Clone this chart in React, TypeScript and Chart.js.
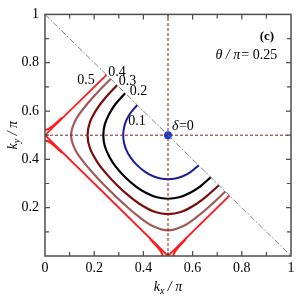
import { useEffect, useRef } from "react";
import { Chart, registerables } from "chart.js";

Chart.register(...registerables);

// ---------- data ----------
const xTickLabels = ["0", "0.2", "0.4", "0.6", "0.8", "1"];
const yTickLabels = ["0.2", "0.4", "0.6", "0.8", "1"];
const deltaLabels = ["0.1", "0.2", "0.3", "0.4", "0.5"];

// δ = 0.1 (blue)
const curve01: [number, number][] = [
  [0.375, 0.625], [0.346, 0.59], [0.33, 0.56], [0.321, 0.53], [0.318, 0.5],
  [0.321, 0.47], [0.33, 0.44], [0.346, 0.41], [0.375, 0.375], [0.41, 0.346],
  [0.44, 0.33], [0.47, 0.321], [0.5, 0.318], [0.53, 0.321], [0.56, 0.33],
  [0.59, 0.346], [0.625, 0.375],
];
// δ = 0.2 (black)
const curve02: [number, number][] = [
  [0.326, 0.674], [0.2875, 0.63], [0.262, 0.59], [0.243, 0.545], [0.237, 0.5],
  [0.243, 0.455], [0.262, 0.41], [0.2875, 0.37], [0.326, 0.326], [0.37, 0.2875],
  [0.41, 0.262], [0.455, 0.243], [0.5, 0.237], [0.545, 0.243], [0.59, 0.262],
  [0.63, 0.2875], [0.674, 0.326],
];
// δ = 0.3 (dark red)
const curve03: [number, number][] = [
  [0.293, 0.707], [0.25, 0.66], [0.212, 0.61], [0.183, 0.555], [0.173, 0.5],
  [0.183, 0.445], [0.212, 0.39], [0.25, 0.34], [0.293, 0.293], [0.34, 0.25],
  [0.39, 0.212], [0.445, 0.183], [0.5, 0.173], [0.555, 0.183], [0.61, 0.212],
  [0.66, 0.25], [0.707, 0.293],
];
// δ = 0.4 (brown)
const curve04: [number, number][] = [
  [0.267, 0.733], [0.216, 0.68], [0.164, 0.62], [0.123, 0.56], [0.106, 0.5],
  [0.123, 0.44], [0.164, 0.38], [0.216, 0.32], [0.267, 0.267], [0.32, 0.216],
  [0.38, 0.164], [0.44, 0.123], [0.5, 0.106], [0.56, 0.123], [0.62, 0.164],
  [0.68, 0.216], [0.733, 0.267],
];
// δ = 0.5 (red diamond)
const curve05: [number, number][] = [
  [0.25, 0.75], [0, 0.5], [0.5, 0], [0.75, 0.25],
];
// thick parts of δ = 0.5 near the saddle points
const saddleLeftUp: [number, number][] = [
  [0, 0.522], [0.01, 0.524], [0.02, 0.53], [0.035, 0.541], [0.05, 0.555], [0.07, 0.573],
];
const saddleLeftDown: [number, number][] = [
  [0, 0.478], [0.01, 0.476], [0.02, 0.47], [0.035, 0.459], [0.05, 0.445], [0.07, 0.427],
];
const saddleBottomLeft: [number, number][] = [
  [0.478, 0], [0.476, 0.01], [0.47, 0.02], [0.459, 0.035], [0.445, 0.05], [0.427, 0.07],
];
const saddleBottomRight: [number, number][] = [
  [0.522, 0], [0.524, 0.01], [0.53, 0.02], [0.541, 0.035], [0.555, 0.05], [0.573, 0.07],
];
const diagonalLine: [number, number][] = [[0, 1], [1, 0]];
const verticalGuide: [number, number][] = [[0.5, 0], [0.5, 1]];
const horizontalGuide: [number, number][] = [[0, 0.5], [1, 0.5]];
const deltaZeroPoint: [number, number][] = [[0.5, 0.5]];

// ---------- styling ----------
const SERIF = '"Liberation Serif", "DejaVu Serif", serif';
const labelAnchors: { text: string; x: number; y: number; align: CanvasTextAlign }[] = [
  { text: deltaLabels[4], x: 0.167, y: 0.727, align: "center" },
  { text: deltaLabels[3], x: 0.293, y: 0.759, align: "center" },
  { text: deltaLabels[2], x: 0.335, y: 0.722, align: "center" },
  { text: deltaLabels[1], x: 0.38, y: 0.682, align: "center" },
  { text: deltaLabels[0], x: 0.374, y: 0.559, align: "center" },
];

const toPts = (a: [number, number][]) => a.map(([x, y]) => ({ x, y }));

const line = (
  data: [number, number][],
  color: string,
  width: number,
  tension = 0,
  dash: number[] = []
) => ({
  data: toPts(data),
  showLine: true,
  borderColor: color,
  backgroundColor: color,
  borderWidth: width,
  borderDash: dash,
  pointRadius: 0,
  tension,
  fill: false,
});

const decorPlugin = {
  id: "decor",
  afterDatasetsDraw(chart: any) {
    const { ctx, chartArea: a, scales } = chart;
    const xs = scales.x;
    const ys = scales.y;
    ctx.save();
    // frame
    ctx.strokeStyle = "#4d4d4d";
    ctx.lineWidth = 1.5;
    ctx.strokeRect(a.left, a.top, a.right - a.left, a.bottom - a.top);
    // ticks (inward, all four sides)
    ctx.lineWidth = 1.2;
    ctx.beginPath();
    xs.ticks.forEach((t: any) => {
      const n = Math.round(t.value * 10);
      if (n === 0 || n === 10) return;
      const L = n % 2 === 0 ? 5 : 4;
      const px = xs.getPixelForValue(t.value);
      ctx.moveTo(px, a.bottom);
      ctx.lineTo(px, a.bottom - L);
      ctx.moveTo(px, a.top);
      ctx.lineTo(px, a.top + L);
    });
    ys.ticks.forEach((t: any) => {
      const n = Math.round(t.value * 10);
      if (n === 0 || n === 10) return;
      const L = n % 2 === 0 ? 5 : 4;
      const py = ys.getPixelForValue(t.value);
      ctx.moveTo(a.left, py);
      ctx.lineTo(a.left + L, py);
      ctx.moveTo(a.right, py);
      ctx.lineTo(a.right - L, py);
    });
    ctx.stroke();

    // curve labels
    ctx.fillStyle = "#000";
    ctx.textBaseline = "middle";
    ctx.font = `14px ${SERIF}`;
    labelAnchors.forEach((l) => {
      ctx.textAlign = l.align;
      ctx.fillText(l.text, xs.getPixelForValue(l.x), ys.getPixelForValue(l.y));
    });
    // δ = 0
    ctx.textAlign = "left";
    ctx.font = `italic 14px ${SERIF}`;
    const dx = xs.getPixelForValue(0.516);
    const dy = ys.getPixelForValue(0.535);
    ctx.fillText("δ", dx, dy);
    let w = ctx.measureText("δ").width;
    ctx.font = `14px ${SERIF}`;
    ctx.fillText("=0", dx + w + 0.5, dy);
    // (c)
    ctx.font = `bold 13px ${SERIF}`;
    ctx.textAlign = "center";
    ctx.fillText("(c)", xs.getPixelForValue(0.902), ys.getPixelForValue(0.91));
    // θ / π = 0.25
    ctx.font = `italic 14px ${SERIF}`;
    ctx.textAlign = "left";
    let tx = xs.getPixelForValue(0.693);
    const ty = ys.getPixelForValue(0.829);
    ctx.fillText("θ / π", tx, ty);
    tx += ctx.measureText("θ / π").width;
    ctx.font = `14px ${SERIF}`;
    ctx.fillText("= 0.25", tx + 1, ty);

    // axis titles
    const drawTitle = (sub: string) => {
      ctx.font = `italic 14px ${SERIF}`;
      const kW = ctx.measureText("k").width;
      ctx.font = `italic 10px ${SERIF}`;
      const sW = ctx.measureText(sub).width;
      ctx.font = `14px ${SERIF}`;
      const rest = " / π";
      const rW = ctx.measureText(rest).width;
      const total = kW + sW + rW;
      let x0 = -total / 2;
      ctx.textAlign = "left";
      ctx.font = `italic 14px ${SERIF}`;
      ctx.fillText("k", x0, 0);
      x0 += kW;
      ctx.font = `italic 10px ${SERIF}`;
      ctx.fillText(sub, x0, 4);
      x0 += sW;
      ctx.font = `italic 14px ${SERIF}`;
      ctx.fillText(rest, x0, 0);
    };
    ctx.save();
    ctx.translate((a.left + a.right) / 2, 287);
    drawTitle("x");
    ctx.restore();
    ctx.save();
    ctx.translate(13, (a.top + a.bottom) / 2);
    ctx.rotate(-Math.PI / 2);
    drawTitle("y");
    ctx.restore();

    ctx.restore();
  },
};

export default function App() {
  const ref = useRef<HTMLCanvasElement | null>(null);
  useEffect(() => {
    if (!ref.current) return;
    const tickCb = (labels: string[]) => (v: any) => {
      const n = Math.round(Number(v) * 10);
      if (n % 2 !== 0) return "";
      const s = String(n / 10);
      return labels.includes(s) ? s : "";
    };
    const chart = new Chart(ref.current, {
      type: "scatter",
      data: {
        datasets: [
          line(diagonalLine, "#808080", 1, 0, [6, 2, 1.5, 2]),
          line(verticalGuide, "#8b1c1c", 1, 0, [3, 2]),
          line(horizontalGuide, "#8b1c1c", 1, 0, [3, 2]),
          line(curve05, "#ff1a1a", 1.8),
          line(saddleLeftUp, "#ff1a1a", 2, 0.3),
          line(saddleLeftDown, "#ff1a1a", 2, 0.3),
          line(saddleBottomLeft, "#ff1a1a", 2, 0.3),
          line(saddleBottomRight, "#ff1a1a", 2, 0.3),
          line(curve04, "#a05a5a", 2.2, 0.35),
          line(curve03, "#7a0c0c", 2.2, 0.35),
          line(curve02, "#000000", 2.2, 0.35),
          line(curve01, "#1c1c9e", 2, 0.35),
          {
            data: toPts(deltaZeroPoint),
            showLine: false,
            pointRadius: 4,
            pointBackgroundColor: "#0a3cf0",
            pointBorderColor: "#0a3cf0",
            borderWidth: 0,
          } as any,
        ],
      },
      options: {
        animation: false,
        responsive: false,
        events: [],
        layout: { padding: { top: 11, right: 9, left: 0, bottom: 0 } },
        plugins: { legend: { display: false }, tooltip: { enabled: false } },
        scales: {
          x: {
            type: "linear",
            min: 0,
            max: 1,
            grid: { display: false, drawTicks: false },
            border: { display: false },
            ticks: {
              stepSize: 0.1,
              autoSkip: false,
              maxRotation: 0,
              padding: 4,
              color: "#000",
              font: { family: SERIF, size: 14 },
              callback: tickCb(xTickLabels),
            },
            afterFit: (s: any) => {
              s.height = 44;
            },
          },
          y: {
            type: "linear",
            min: 0,
            max: 1,
            grid: { display: false, drawTicks: false },
            border: { display: false },
            ticks: {
              stepSize: 0.1,
              autoSkip: false,
              padding: 6,
              color: "#000",
              font: { family: SERIF, size: 14 },
              callback: tickCb(yTickLabels),
            },
            afterFit: (s: any) => {
              s.width = 45;
            },
          },
        },
      },
      plugins: [decorPlugin],
    });
    return () => chart.destroy();
  }, []);
  return (
    <div style={{ position: "absolute", left: 0, top: 0, width: 300, height: 300, background: "#fff" }}>
      <canvas ref={ref} width={300} height={300} style={{ width: 300, height: 300 }} />
    </div>
  );
}
